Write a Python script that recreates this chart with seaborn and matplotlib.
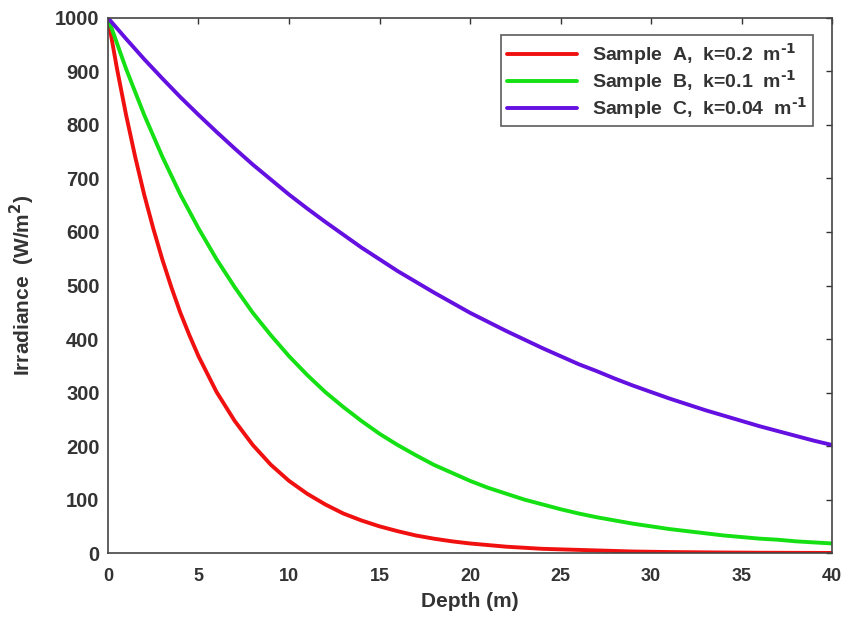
import numpy as np
import pandas as pd
import matplotlib
matplotlib.use("Agg")
import matplotlib.pyplot as plt
import seaborn as sns

depth_a = [0, 0.5, 1, 1.5, 2, 2.5, 3, 3.5, 4, 4.5, 5, 6, 7, 8, 9, 10, 11, 12, 13, 14, 15, 16, 17, 18, 19,
           20, 21, 22, 23, 24, 25, 26, 27, 28, 29, 30, 31, 32, 33, 34, 35, 36, 37, 38, 39, 40]
sample_a = [1000, 905, 819, 741, 670, 607, 549, 497, 449, 407, 368, 301, 247, 202, 165, 135, 111, 91, 74, 61,
            50, 41, 33, 27, 22, 18, 15, 12, 10, 8, 7, 6, 5, 4, 3, 2.5, 2, 1.7, 1.4, 1.1, 0.9, 0.7, 0.6, 0.5, 0.4, 0.3]
depth_bc = list(range(0, 41))
sample_b = [1000, 905, 819, 741, 670, 607, 549, 497, 449, 407, 368, 333, 301, 273, 247, 223, 202, 183, 165, 150,
            135, 122, 111, 100, 91, 82, 74, 67, 61, 55, 50, 45, 41, 37, 33, 30, 27, 25, 22, 20, 18]
sample_c = [1000, 961, 923, 887, 852, 819, 787, 756, 726, 698, 670, 644, 619, 595, 571, 549, 527, 507, 487, 468,
            449, 432, 415, 399, 383, 368, 353, 340, 326, 313, 301, 289, 278, 267, 257, 247, 237, 228, 219, 210, 202]
labels = ["Sample  A,  k=0.2  m$^{\\text{-1}}$", "Sample  B,  k=0.1  m$^{\\text{-1}}$",
          "Sample  C,  k=0.04  m$^{\\text{-1}}$"]
colors = ["#f01010", "#14e014", "#6410e0"]
xticks = [0, 5, 10, 15, 20, 25, 30, 35, 40]
yticks = [0, 100, 200, 300, 400, 500, 600, 700, 800, 900, 1000]

df = pd.DataFrame({
    "Depth": depth_a + depth_bc + depth_bc,
    "Irradiance": sample_a + sample_b + sample_c,
    "Sample": [labels[0]] * len(sample_a) + [labels[1]] * len(sample_b) + [labels[2]] * len(sample_c),
})

sns.set_style("white")
plt.rcParams['font.family'] = ['Liberation Sans', 'DejaVu Sans']
plt.rcParams['font.weight'] = 'bold'
plt.rcParams['mathtext.default'] = 'bf'

fig = plt.figure(figsize=(8.5, 6.18), dpi=100)
ax = fig.add_axes([0.127, 0.105, 0.852, 0.866])
sns.lineplot(data=df, x="Depth", y="Irradiance", hue="Sample", palette=colors,
             linewidth=2.8, ax=ax)

ax.set_xlim(0, 40)
ax.set_ylim(0, 1000)
ax.set_xticks(xticks)
ax.set_yticks(yticks)
ax.tick_params(direction="in", length=4, width=1, colors="#333333",
               top=True, right=True, labelcolor="#333333")
ax.tick_params(axis="x", labelsize=13, pad=11)
ax.tick_params(axis="y", labelsize=14.5, pad=6)
for lab in ax.get_xticklabels() + ax.get_yticklabels():
    lab.set_fontweight("bold")
for s in ax.spines.values():
    s.set_color("#444444")
    s.set_linewidth(1.2)
ax.set_xlabel("Depth (m)", fontsize=15, fontweight="bold", color="#333333", labelpad=5)
ax.set_ylabel("Irradiance  (W/m$^2$)", fontsize=15, fontweight="bold", color="#333333", labelpad=13)

leg = ax.legend(loc="upper right", fontsize=14, frameon=True, fancybox=False,
                handlelength=3.6, borderpad=0.3, labelspacing=0.05, handletextpad=0.8,
                borderaxespad=0, bbox_to_anchor=(0.974, 0.968))
leg.get_frame().set_edgecolor("#333333")
leg.get_frame().set_linewidth(1.2)
for t in leg.get_texts():
    t.set_color("#333333")
    t.set_fontweight("bold")

fig.savefig("out.png", dpi=100)
